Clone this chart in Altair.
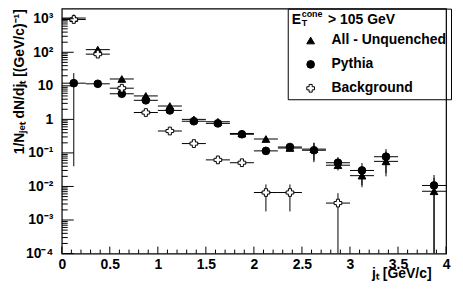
import json
import altair as alt
import pandas as pd

# ---------------- data ----------------
all_x = [0.125, 0.375, 0.625, 0.875, 1.125, 1.375, 1.625, 1.875, 2.125, 2.375, 2.625, 2.875, 3.125, 3.375, 3.875]
all_y = [1050, 120, 16, 5.0, 2.5, 1.0, 0.85, 0.38, 0.26, 0.14, 0.13, 0.043, 0.021, 0.056, 0.0072]
all_lo = [1000, 112, 14.8, 4.6, 2.3, 0.92, 0.78, 0.35, 0.22, 0.115, 0.06, 0.03, 0.011, 0.025, 0.0001]
all_hi = [1100, 128, 17.2, 5.4, 2.7, 1.08, 0.92, 0.41, 0.31, 0.17, 0.2, 0.062, 0.036, 0.11, 0.018]

pythia_x = [0.125, 0.375, 0.625, 0.875, 1.125, 1.375, 1.625, 1.875, 2.125, 2.375, 2.625, 2.875, 3.125, 3.375, 3.875]
pythia_y = [12, 11.5, 5.8, 3.7, 1.85, 0.88, 0.76, 0.36, 0.115, 0.15, 0.12, 0.051, 0.03, 0.077, 0.0107]
pythia_lo = [0.04, 10.8, 5.3, 3.4, 1.7, 0.8, 0.69, 0.33, 0.095, 0.125, 0.053, 0.035, 0.0095, 0.02, 0.0001]
pythia_hi = [24, 12.2, 6.3, 4.0, 2.0, 0.96, 0.83, 0.39, 0.14, 0.175, 0.2, 0.075, 0.05, 0.13, 0.022]

bkg_x = [0.125, 0.375, 0.625, 0.875, 1.125, 1.375, 1.625, 1.875, 2.125, 2.375, 2.875]
bkg_y = [950, 88, 8.5, 1.6, 0.45, 0.19, 0.062, 0.051, 0.0066, 0.0066, 0.0032]
bkg_lo = [900, 82, 8.0, 1.5, 0.42, 0.175, 0.056, 0.046, 0.0018, 0.0018, 0.0001]
bkg_hi = [1000, 94, 9.0, 1.7, 0.48, 0.205, 0.068, 0.056, 0.0115, 0.0115, 0.0063]

half_bin = 0.125
series_names = ["All - Unquenched", "Pythia", "Background"]
series_shapes = ["triangle-up", "circle", "cross"]
series_fills = ["black", "black", "white"]
series_strokes = ["black", "black", "black"]

x_tick_values = [0, 0.5, 1, 1.5, 2, 2.5, 3, 3.5, 4]
x_tick_labels = ["0", "0.5", "1", "1.5", "2", "2.5", "3", "3.5", "4"]
x_minor_step = 0.1
y_tick_values = [1e-4, 1e-3, 1e-2, 1e-1, 1, 10, 100, 1000]
y_tick_labels = ["10\u207b\u2074", "10\u207b\u00b3", "10\u207b\u00b2", "10\u207b\u00b9", "1", "10", "10\u00b2", "10\u00b3"]
y_minor_mult = [2, 3, 4, 5, 6, 7, 8, 9]

NB = "\u00a0"
header_text = "E" + NB * 7 + "> 105 GeV"
x_title = "j\u209c [GeV/c]"
y_title = "1/N\u2c7c\u2091\u209c dN/dj\u209c [(GeV/c)\u207b\u00b9]"

# ---------------- tables ----------------
rows = []
for name, xs_, ys_, lo_, hi_ in [
    (series_names[0], all_x, all_y, all_lo, all_hi),
    (series_names[1], pythia_x, pythia_y, pythia_lo, pythia_hi),
    (series_names[2], bkg_x, bkg_y, bkg_lo, bkg_hi),
]:
    for a, b, l, h in zip(xs_, ys_, lo_, hi_):
        rows.append(dict(series=name, x=a, y=b, lo=l, hi=h, xlo=a - half_bin, xhi=a + half_bin))
df = pd.DataFrame(rows)
df["idx"] = range(len(df))

y_minor = [m * t for t in y_tick_values[:-1] for m in y_minor_mult]
x_minor = [round(i * x_minor_step, 2) for i in range(0, 41) if (i % 5) != 0]
df_ymaj = pd.DataFrame({"v": y_tick_values})
df_ymin = pd.DataFrame({"v": y_minor})
df_xmaj = pd.DataFrame({"v": x_tick_values})
df_xmin = pd.DataFrame({"v": x_minor})

W, H = 386, 246
FONT = "Liberation Sans"

xscale = alt.Scale(domain=[0, 4], nice=False, zero=False)
yscale = alt.Scale(type="log", domain=[1e-4, 2000], nice=False)

x_axis = alt.Axis(
    values=x_tick_values,
    labelExpr=json.dumps(x_tick_labels) + "[round(datum.value*2)]",
    tickSize=0, domain=False, grid=False, labelPadding=4,
    labelFont=FONT, labelFontSize=14, labelFontWeight="bold", labelColor="black",
    title=x_title, titleFont=FONT, titleFontSize=14, titleFontWeight="bold", titleColor="black",
    titleX=371, titleY=13, titleAlign="right", titleBaseline="top",
    labelOverlap=False, labelFlush=False,
)
y_axis = alt.Axis(
    values=y_tick_values,
    labelExpr=json.dumps(y_tick_labels) + "[round(log(datum.value)/LN10)+4]",
    tickSize=0, domain=False, grid=False, labelPadding=9,
    labelFont=FONT, labelFontSize=14, labelFontWeight="bold", labelColor="black",
    title=y_title, titleFont=FONT, titleFontSize=14, titleFontWeight="bold", titleColor="black",
    titleX=-42, titleY=0, titleAlign="right", titleAngle=-90, titleBaseline="middle",
    labelOverlap=False, labelFlush=False,
)

base = alt.Chart(df)

vbars = base.mark_rule(color="black", strokeWidth=1, clip=True).encode(
    x=alt.X("x:Q", scale=xscale, axis=x_axis),
    y=alt.Y("lo:Q", scale=yscale, axis=y_axis),
    y2="hi:Q",
)
hbars = base.mark_rule(color="black", strokeWidth=1, clip=True).encode(
    x=alt.X("xlo:Q", scale=xscale, axis=x_axis),
    x2="xhi:Q",
    y=alt.Y("y:Q", scale=yscale, axis=y_axis),
)

legend = alt.Legend(
    title=header_text, orient="none", legendX=227, legendY=0,
    labelFont=FONT, labelFontSize=14, labelFontWeight="bold", labelColor="black",
    titleFont=FONT, titleFontSize=14, titleFontWeight="bold", titleColor="black",
    strokeColor="black", fillColor="transparent", padding=4, titlePadding=7,
    rowPadding=10, labelOffset=14, symbolOffset=12, symbolSize=60,
    symbolStrokeWidth=1, titleLimit=400, labelLimit=400,
)
points = base.mark_point(filled=True, strokeWidth=1, size=60, opacity=1, clip=True).encode(
    x=alt.X("x:Q", scale=xscale, axis=x_axis),
    y=alt.Y("y:Q", scale=yscale, axis=y_axis),
    shape=alt.Shape("series:N", scale=alt.Scale(domain=series_names, range=series_shapes), legend=legend, sort=series_names),
    fill=alt.Fill("series:N", scale=alt.Scale(domain=series_names, range=series_fills), legend=legend, sort=series_names),
    stroke=alt.Stroke("series:N", scale=alt.Scale(domain=series_names, range=series_strokes), legend=legend, sort=series_names),
    order=alt.Order("idx:Q"),
)

ymaj = alt.Chart(df_ymaj).mark_rule(color="black", strokeWidth=1).encode(
    y=alt.Y("v:Q", scale=yscale, axis=y_axis), x=alt.value(0), x2=alt.value(12))
ymin = alt.Chart(df_ymin).mark_rule(color="black", strokeWidth=1).encode(
    y=alt.Y("v:Q", scale=yscale, axis=y_axis), x=alt.value(0), x2=alt.value(6))
xmaj = alt.Chart(df_xmaj).mark_rule(color="black", strokeWidth=1).encode(
    x=alt.X("v:Q", scale=xscale, axis=x_axis), y=alt.value(H), y2=alt.value(H - 7))
xmin = alt.Chart(df_xmin).mark_rule(color="black", strokeWidth=1).encode(
    x=alt.X("v:Q", scale=xscale, axis=x_axis), y=alt.value(H), y2=alt.value(H - 4))

one = alt.Data(values=[{}])
sup = alt.Chart(one).mark_text(text="cone", font=FONT, fontSize=9, fontWeight="bold", align="left",
                               baseline="alphabetic", color="black").encode(x=alt.value(241), y=alt.value(8))
sub = alt.Chart(one).mark_text(text="T", font=FONT, fontSize=9, fontWeight="bold", align="left",
                               baseline="alphabetic", color="black").encode(x=alt.value(241), y=alt.value(17))

chart = alt.layer(vbars, hbars, points, ymaj, ymin, xmaj, xmin, sup, sub, data=df).properties(
    width=W, height=H,
    autosize=alt.AutoSizeParams(type="none"),
    padding={"left": 54, "top": 0, "right": 9, "bottom": 45},
).configure(font=FONT).configure_view(stroke="black", strokeWidth=1.2).configure_legend(
    strokeColor="black", fillColor="transparent", padding=4, cornerRadius=0,
    titleFont=FONT, titleFontSize=14, titleFontWeight="bold", titleColor="black", titlePadding=7,
    titleLimit=400, labelLimit=400,
    labelFont=FONT, labelFontSize=14, labelFontWeight="bold", labelColor="black",
    symbolSize=60, symbolStrokeWidth=1,
    rowPadding=10, labelOffset=14, symbolOffset=12,
)

chart.save("out.html", embed_options={"renderer": "svg", "actions": False})
